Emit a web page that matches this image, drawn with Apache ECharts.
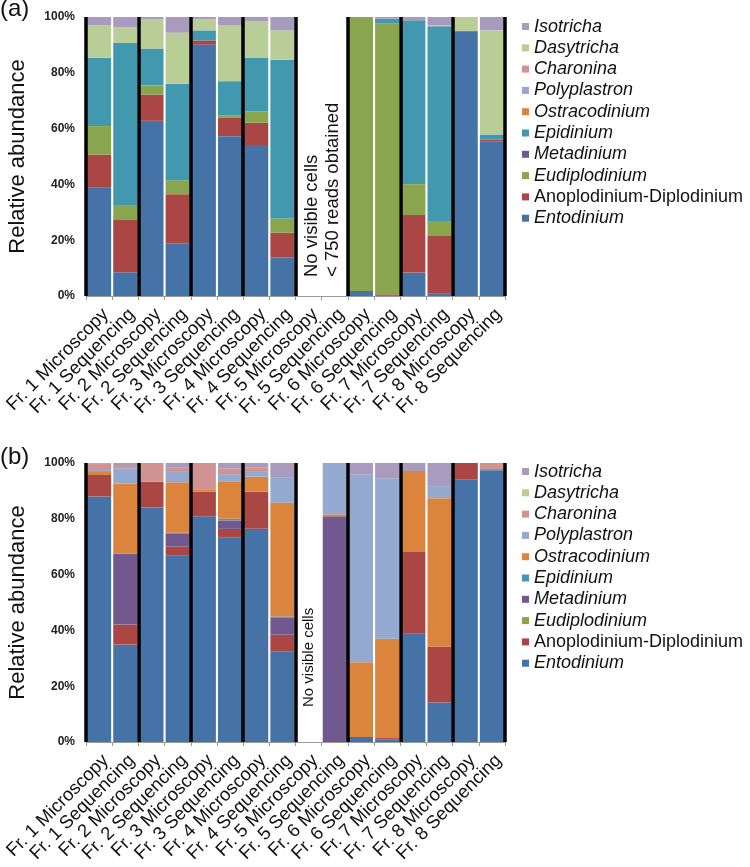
<!DOCTYPE html>
<html>
<head>
<meta charset="utf-8">
<script src="https://cdn.jsdelivr.net/npm/echarts@6/dist/echarts.min.js"></script>
<style>html,body{margin:0;padding:0;background:#fff}#c{width:750px;height:867px}</style>
</head>
<body>
<div id="c"></div>
<script>
const categories = ['Fr. 1 Microscopy','Fr. 1 Sequencing','Fr. 2 Microscopy','Fr. 2 Sequencing','Fr. 3 Microscopy','Fr. 3 Sequencing','Fr. 4 Microscopy','Fr. 4 Sequencing','Fr. 5 Microscopy','Fr. 5 Sequencing','Fr. 6 Microscopy','Fr. 6 Sequencing','Fr. 7 Microscopy','Fr. 7 Sequencing','Fr. 8 Microscopy','Fr. 8 Sequencing'];
const species = ['Entodinium','Anoplodinium-Diplodinium','Eudiplodinium','Metadinium','Epidinium','Ostracodinium','Polyplastron','Charonina','Dasytricha','Isotricha'];
const colors = ['#4572A7','#AA4643','#89A54E','#71588F','#4198AF','#DB843D','#93A9CF','#D19392','#B9CD96','#A99BBD'];
const yTicks = [0,20,40,60,80,100];

// Panel (a)
const a_Entodinium   = [38.8, 8.5, 62.8, 18.9, 90.1, 57.3, 54.1, 13.8, null, null, 1.8, 0.3, 8.4, 1.0, 94.6, 55.3];
const a_Anoplodinium = [11.9, 18.7, 9.4, 17.6, 1.5, 6.7, 8.0, 8.9, null, null, 0, 0.3, 20.6, 20.5, 0, 0.8];
const a_Eudiplodinium= [10.2, 5.4, 3.3, 5.0, 0, 0.8, 4.1, 5.1, null, null, 98.2, 97.0, 11.1, 5.4, 0, 0];
const a_Metadinium   = [0, 0, 0, 0, 0, 0, 0, 0, null, null, 0, 0, 0, 0, 0, 0];
const a_Epidinium    = [24.5, 58.1, 13.2, 34.6, 3.6, 12.2, 19.1, 56.9, null, null, 0, 1.8, 58.7, 69.8, 0.4, 1.8];
const a_Ostracodinium= [0, 0, 0, 0, 0, 0, 0, 0, null, null, 0, 0, 0, 0, 0, 0];
const a_Polyplastron = [0, 0, 0, 0, 0, 0, 0, 0, null, null, 0, 0, 0, 0, 0, 0];
const a_Charonina    = [0, 0, 0, 0, 0, 0, 0, 0, null, null, 0, 0, 0, 0, 0, 0];
const a_Dasytricha   = [11.6, 5.7, 10.5, 18.3, 4.0, 20.0, 13.1, 10.5, null, null, 0, 0, 0, 0.3, 5.0, 37.3];
const a_Isotricha    = [3.0, 3.6, 0.8, 5.6, 0.8, 3.0, 1.6, 4.8, null, null, 0, 0.6, 1.2, 3.0, 0, 4.8];

// Panel (b)
const b_Entodinium   = [88.0, 34.9, 84.0, 66.9, 80.9, 73.4, 76.4, 32.4, null, 0, 1.8, 1.0, 38.8, 14.2, 94.0, 97.4];
const b_Anoplodinium = [7.7, 7.2, 9.3, 3.2, 8.8, 3.0, 13.3, 6.1, null, 0, 0, 0.4, 29.3, 20.0, 6.0, 0];
const b_Eudiplodinium= [0, 0, 0, 0, 0, 0, 0, 0, null, 0, 0, 0, 0, 0, 0, 0];
const b_Metadinium   = [0, 25.4, 0, 4.5, 0, 3.0, 0, 6.0, null, 80.9, 0, 0, 0, 0, 0, 0];
const b_Epidinium    = [0, 0.2, 0, 0.4, 0, 0.6, 0, 0.5, null, 0, 0, 0, 0, 0, 0, 0.4];
const b_Ostracodinium= [1.4, 24.9, 0, 18.1, 0.9, 13.5, 5.4, 40.8, null, 0.7, 26.8, 35.6, 29.0, 53.2, 0, 0];
const b_Polyplastron = [0.4, 5.5, 0, 3.7, 0, 2.5, 1.7, 8.9, null, 18.4, 67.2, 57.4, 0, 4.3, 0, 0];
const b_Charonina    = [2.2, 0.8, 6.7, 1.5, 9.4, 2.1, 1.5, 0, null, 0, 0, 0, 0, 0, 0, 2.2];
const b_Dasytricha   = [0, 0, 0, 0, 0, 0, 0, 0, null, 0, 0, 0, 0, 0, 0, 0];
const b_Isotricha    = [0.3, 1.1, 0, 1.7, 0, 1.9, 1.7, 5.3, null, 0, 4.2, 5.6, 2.9, 8.3, 0, 0];

const panelA = [a_Entodinium, a_Anoplodinium, a_Eudiplodinium, a_Metadinium, a_Epidinium, a_Ostracodinium, a_Polyplastron, a_Charonina, a_Dasytricha, a_Isotricha];
const panelB = [b_Entodinium, b_Anoplodinium, b_Eudiplodinium, b_Metadinium, b_Epidinium, b_Ostracodinium, b_Polyplastron, b_Charonina, b_Dasytricha, b_Isotricha];

const FONT = 'Liberation Sans, Arial, sans-serif';
const chart = echarts.init(document.getElementById('c'), null, {renderer: 'canvas'});

function catAxis(gi) {
  return {
    type: 'category', gridIndex: gi, data: categories,
    axisLine: {show: true, lineStyle: {color: '#999', width: 1}},
    axisTick: {show: true, length: 4, lineStyle: {color: '#999'}},
    axisLabel: {interval: 0, rotate: 45, fontSize: 18.5, color: '#111', fontFamily: FONT, margin: 9, verticalAlign: 'top'},
    splitLine: {show: false}
  };
}
function sepAxis(gi) {
  return {
    type: 'value', gridIndex: gi, min: 0, max: 16, interval: 2, z: 10,
    axisLine: {show: false}, axisTick: {show: false}, axisLabel: {show: false},
    splitLine: {show: true, lineStyle: {color: '#000', width: 3.5}}
  };
}
function valAxis(gi) {
  return {
    type: 'value', gridIndex: gi, min: 0, max: 100, interval: 20,
    name: 'Relative abundance', nameLocation: 'middle', nameGap: 57,
    nameTextStyle: {fontSize: 22, color: '#111', fontFamily: FONT},
    axisLine: {show: false}, axisTick: {show: false},
    axisLabel: {formatter: '{value}%', fontSize: 12, fontWeight: 'bold', color: '#222', fontFamily: FONT, margin: 11},
    splitLine: {show: false}
  };
}

const series = [];
[panelA, panelB].forEach((panel, pi) => {
  panel.forEach((vals, si) => {
    series.push({
      name: species[si], type: 'bar', stack: 'p' + pi,
      xAxisIndex: pi * 2, yAxisIndex: pi,
      data: vals, barCategoryGap: '8%',
      itemStyle: {color: colors[si]},
      emphasis: {disabled: true}, animation: false
    });
  });
});

function legend(top) {
  const data = species.slice().reverse().map(n => ({
    name: n,
    textStyle: {fontStyle: n === 'Anoplodinium-Diplodinium' ? 'normal' : 'italic'}
  }));
  return {
    orient: 'vertical', left: 522, top: top, itemWidth: 7, itemHeight: 7, itemGap: 0.3,
    icon: 'rect', selectedMode: false, data: data,
    textStyle: {fontSize: 18, color: '#111', fontFamily: FONT, lineHeight: 21, padding: [0,0,0,0]},
    padding: 0
  };
}

chart.setOption({
  animation: false,
  backgroundColor: '#fff',
  grid: [
    {left: 86, right: 245, top: 17, height: 279, containLabel: false, outerBoundsMode: 'none'},
    {left: 86, right: 245, top: 463, height: 279, containLabel: false, outerBoundsMode: 'none'}
  ],
  xAxis: [catAxis(0), sepAxis(0), catAxis(1), sepAxis(1)],
  yAxis: [valAxis(0), valAxis(1)],
  legend: [legend(16), legend(461)],
  series: series,
  graphic: [
    {type: 'text', left: 0, top: -3, style: {text: '(a)', fontSize: 24, fontFamily: FONT, fill: '#111'}},
    {type: 'text', left: 0, top: 445, style: {text: '(b)', fontSize: 24, fontFamily: FONT, fill: '#111'}},
    {type: 'text', x: 322, y: 277, rotation: Math.PI / 2,
     style: {text: 'No visible cells\n< 750 reads obtained', fontSize: 18.5, lineHeight: 21, fontFamily: FONT, fill: '#111', align: 'left', verticalAlign: 'middle'}},
    {type: 'text', x: 309, y: 707, rotation: Math.PI / 2,
     style: {text: 'No visible cells', fontSize: 15, fontFamily: FONT, fill: '#111', align: 'left', verticalAlign: 'middle'}}
  ]
});
</script>
</body>
</html>
